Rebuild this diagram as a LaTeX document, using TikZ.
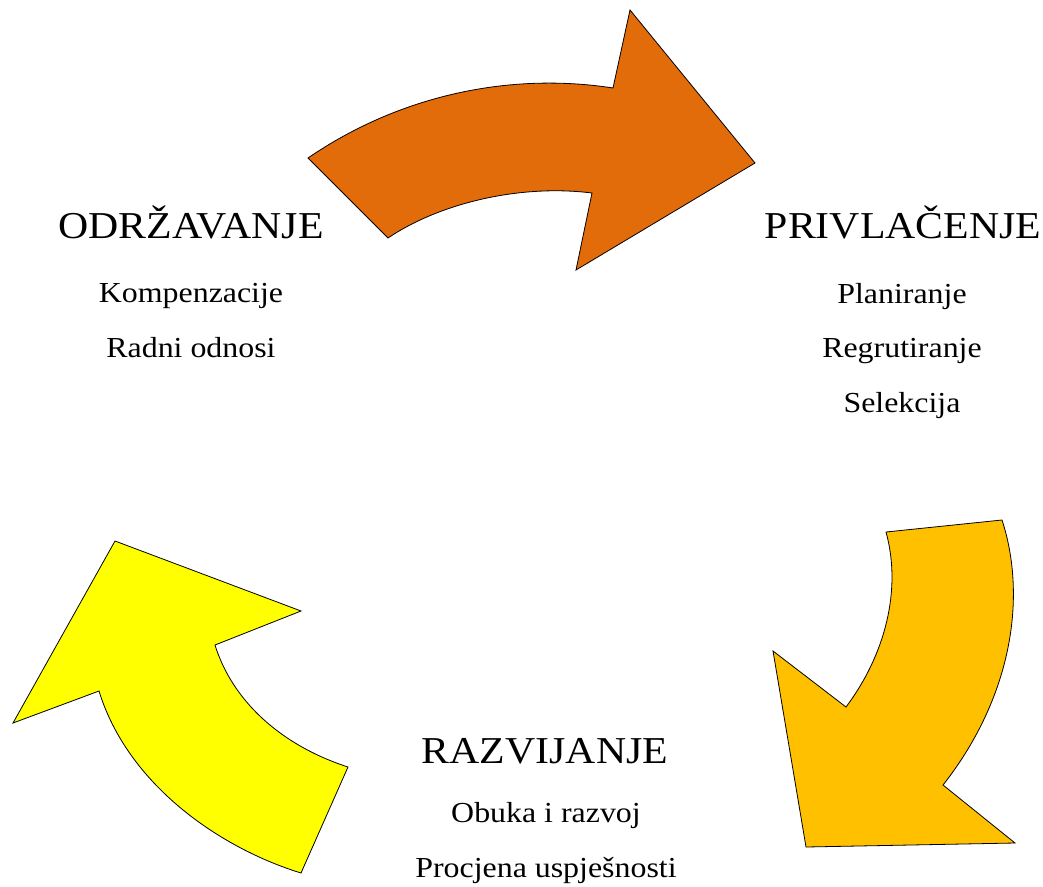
\documentclass[tikz,border=0pt]{standalone}
\usepackage{fontspec}
\setmainfont{Liberation Serif}[FakeStretch=1.1]
\definecolor{arroworange}{RGB}{226,107,10}
\definecolor{arrowamber}{RGB}{255,192,0}
\definecolor{arrowyellow}{RGB}{255,255,0}
\begin{document}
\begin{tikzpicture}[
            x=1pt, y=-1pt,
            heading/.style={font=\fontsize{38}{40}\selectfont, anchor=base, inner sep=0pt},
            item/.style={font=\fontsize{29}{31}\selectfont, anchor=base, inner sep=0pt},
            bigarrow/.style={draw=black, line width=0.8pt, line join=miter}
        ]
        \useasboundingbox (0,0) rectangle (1043,886);

        % Top arrow - towards PRIVLACENJE
        \path[bigarrow, fill=arroworange] (308,158) .. controls (400,95) and (510,72) .. (613,88)
            -- (630,10) -- (755,163) -- (576,270) -- (592,193)
            .. controls (520,184) and (440,203) .. (388,238) -- cycle;

        % Right arrow - towards RAZVIJANJE
        \path[bigarrow, fill=arrowamber] (886,532) -- (1002,520)
            .. controls (1028,600) and (1010,700) .. (943,785)
            -- (1015,843) -- (806,847) -- (773,651) -- (846,707)
            .. controls (885,655) and (902,590) .. (886,532) -- cycle;

        % Left arrow - towards ODRZAVANJE
        \path[bigarrow, fill=arrowyellow] (115,541) -- (301,611) -- (215,645)
            .. controls (232,700) and (280,745) .. (348,767)
            -- (301,873)
            .. controls (220,848) and (128,785) .. (99,691)
            -- (13,723) -- cycle;

        % ODRZAVANJE
        \node[heading] (odrzavanje) at (191,238) {ODRŽAVANJE};
        \node[item] (kompenzacije) at (191,302) {Kompenzacije};
        \node[item] (odnosi) at (191,357) {Radni odnosi};

        % PRIVLACENJE
        \node[heading] (privlacenje) at (903,238) {PRIVLAČENJE};
        \node[item] (planiranje) at (902,303) {Planiranje};
        \node[item] (regrutiranje) at (902,357) {Regrutiranje};
        \node[item] (selekcija) at (902,412) {Selekcija};

        % RAZVIJANJE
        \node[heading] (razvijanje) at (545,763) {RAZVIJANJE};
        \node[item] (obuka) at (546,822) {Obuka i razvoj};
        \node[item] (procjena) at (546,877) {Procjena uspješnosti};

    \end{tikzpicture}
\end{document}
